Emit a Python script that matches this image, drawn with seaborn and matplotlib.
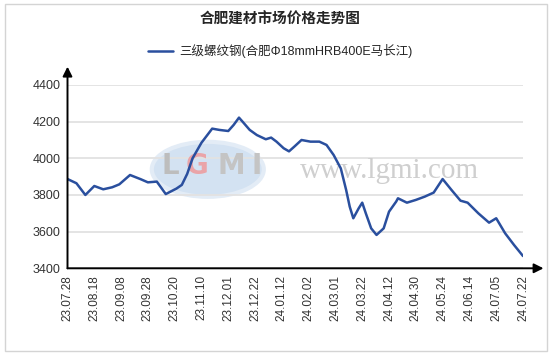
import numpy as np
import pandas as pd
import matplotlib
matplotlib.use('Agg')
import matplotlib.pyplot as plt
import seaborn as sns
from matplotlib.patches import Ellipse, Rectangle

sns.set_style('white')
plt.rcParams['font.family'] = ['Liberation Sans', 'Noto Sans CJK SC', 'DejaVu Sans']

# === DATA ===
title = '合肥建材市场价格走势图'
series_name = '三级螺纹钢(合肥Φ18mmHRB400E马长江)'

# trading-day index (15 trading days between labels) and price (元/吨)
day_idx = [0, 5, 10, 15, 20, 25, 29, 35, 41, 45, 50, 55, 61, 64, 67, 70, 75,
           81, 85, 90, 93, 96, 98, 102, 106, 111, 114, 117, 121, 124, 127, 131,
           136, 141, 145, 149, 153, 156, 158, 160, 163, 165, 167, 170, 173, 177,
           180, 184, 185, 190, 195, 200, 205, 210, 215, 220, 224, 230, 236, 240,
           245, 250, 255]
price = [3887, 3864, 3800, 3849, 3831, 3842, 3858, 3909, 3886, 3869, 3873, 3805,
         3835, 3855, 3915, 4000, 4085, 4162, 4155, 4149, 4182, 4222, 4200, 4155,
         4127, 4104, 4113, 4091, 4055, 4038, 4064, 4100, 4091, 4091, 4073, 4018,
         3945, 3827, 3736, 3673, 3727, 3758, 3700, 3618, 3582, 3618, 3709, 3764,
         3782, 3758, 3773, 3791, 3813, 3887, 3827, 3769, 3758, 3700, 3649, 3673,
         3591, 3527, 3467]

tick_labels = ['23.07.28', '23.08.18', '23.09.08', '23.09.28', '23.10.20',
               '23.11.10', '23.12.01', '23.12.22', '24.01.12', '24.02.02',
               '24.03.01', '24.03.22', '24.04.12', '24.04.30', '24.05.24',
               '24.06.14', '24.07.05', '24.07.22']
y_ticks = [3400, 3600, 3800, 4000, 4200, 4400]

df = pd.DataFrame({'day': day_idx, 'price': price})

# === FIGURE ===
fig = plt.figure(figsize=(5.54, 3.55), dpi=100)
W, H = 554, 355
ax = fig.add_axes([67.5 / W, 1 - 268.3 / H, (523 - 67.5) / W, (268.3 - 85) / H])

# outer frame
fig.patches.append(Rectangle((5 / W, 4 / H), 542 / W, 347 / H, transform=fig.transFigure,
                             fill=False, edgecolor='#d4d4d4', lw=1))

# watermark
ax.add_patch(Ellipse((0.308, 0.54), 112 / (523 - 67.5), 55 / 183.3, transform=ax.transAxes,
                     facecolor='#d3e2f2', edgecolor='#e3ecf6', lw=3, zorder=0))
for ch, xf, col in [('L', 0.225, '#bdbdbd'), ('G', 0.285, '#eaa4a8'),
                    ('M', 0.36, '#c4c4c4'), ('I', 0.415, '#c4c4c4')]:
    ax.text(xf, 0.56, ch, transform=ax.transAxes, ha='center', va='center',
            fontsize=20, fontweight='bold', color=col, family='DejaVu Sans', zorder=1)
ax.text(0.51, 0.53, 'www.lgmi.com', transform=ax.transAxes, ha='left', va='center',
        fontsize=21, color='#cfcfcf', family='Liberation Serif', zorder=1)

sns.lineplot(data=df, x='day', y='price', ax=ax, color='#2a4f9e', lw=1.8,
             label=series_name, zorder=3)

ax.set_xlim(0, 255)
ax.set_ylim(3400, 4400)
ax.set_xticks(np.arange(0, 256, 15))
ax.set_xticklabels(tick_labels, rotation=90, fontsize=8.5, color='#333333')
ax.set_yticks(y_ticks)
ax.set_yticklabels([str(v) for v in y_ticks], fontsize=9, color='#333333')
ax.tick_params(axis='both', length=3, width=0.8, color='#555555', pad=2)
ax.yaxis.grid(True, color='#e2e2e2', lw=1.3)
ax.set_axisbelow(True)
ax.set_xlabel('')
ax.set_ylabel('')
for s in ax.spines.values():
    s.set_visible(False)

# axis arrows
ax.annotate('', xy=(1.045, 0), xytext=(0, 0), xycoords='axes fraction',
            arrowprops=dict(arrowstyle='-|>', color='black', lw=1.4,
                            mutation_scale=14, shrinkA=0, shrinkB=0), annotation_clip=False)
ax.annotate('', xy=(0, 1.1), xytext=(0, 0), xycoords='axes fraction',
            arrowprops=dict(arrowstyle='-|>', color='black', lw=1.4,
                            mutation_scale=14, shrinkA=0, shrinkB=0), annotation_clip=False)

ax.legend(loc='center', bbox_to_anchor=(280 / W, 1 - 51 / H), bbox_transform=fig.transFigure,
          frameon=False, fontsize=9, handlelength=2.0, handletextpad=0.5)
fig.text(280 / W, 1 - 20 / H, title, ha='center', va='center', fontsize=10.5, fontweight='bold')

fig.savefig('out.png', dpi=100)
